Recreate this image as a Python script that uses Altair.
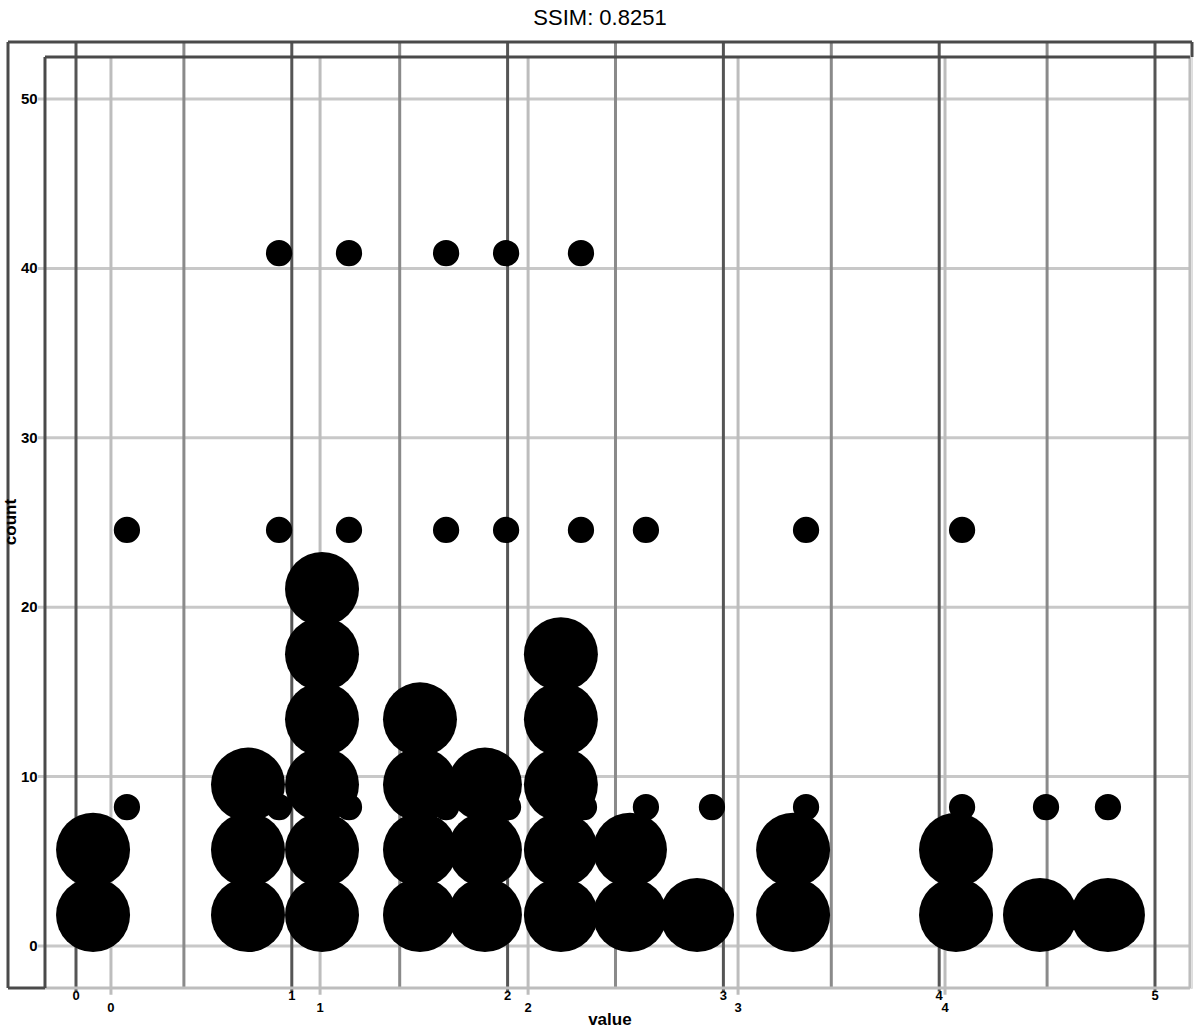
import altair as alt
import pandas as pd

# ---- data ----
# big stacked dots: column centre (x) and number of stacked dots
big_x = [0.079, 0.797, 1.140, 1.594, 1.895, 2.247, 2.567, 2.878, 3.323, 4.078, 4.467, 4.782]
big_n = [2, 3, 6, 4, 3, 5, 2, 1, 2, 2, 1, 1]
big_base = 0.183
big_step = 0.385

# small dots, three rows
small_row1_x = [0.236, 0.941, 1.265, 1.715, 2.002, 2.354, 2.641, 2.947, 3.383, 4.106, 4.495, 4.782]
small_row1_y = 0.82
small_row2_x = [0.236, 0.941, 1.265, 1.715, 1.993, 2.340, 2.641, 3.383, 4.106]
small_row2_y = 2.456
small_row3_x = [0.941, 1.265, 1.715, 1.993, 2.340]
small_row3_y = 4.09

# gridlines / ticks
grid_major = [0, 1, 2, 3, 4, 5]
grid_minor = [0.5, 1.5, 2.5, 3.5, 4.5]
grid_second = [0.162, 1.131, 2.095, 3.068, 4.027]
grid_y = [0, 1, 2, 3, 4, 5]
y_labels = ["0", "10", "20", "30", "40", "50"]
x_labels = ["0", "1", "2", "3", "4", "5"]
x2_labels = ["0", "1", "2", "3", "4"]
title_text = "SSIM: 0.8251"

# ---- scale extents ----
XMIN, XMAX = -0.3151, 5.1715
YMIN, YMAX = -0.2479, 5.3365
IX0, IX1 = -0.1437, 5.162
IY1 = 5.248

xs = alt.Scale(domain=[XMIN, XMAX], nice=False, zero=False)
ys = alt.Scale(domain=[YMIN, YMAX], nice=False, zero=False)


def X(f):
    return alt.X(f, type="quantitative", scale=xs, axis=None)


def Y(f):
    return alt.Y(f, type="quantitative", scale=ys, axis=None)


# stacked big dots
rows = []
for x, n in zip(big_x, big_n):
    for k in range(n):
        rows.append({"x": x, "y": big_base + big_step * k})
big_df = pd.DataFrame(rows)

small_df = pd.DataFrame(
    [{"x": x, "y": small_row1_y} for x in small_row1_x]
    + [{"x": x, "y": small_row2_y} for x in small_row2_x]
    + [{"x": x, "y": small_row3_y} for x in small_row3_x]
)

vmaj = pd.DataFrame({"x": grid_major, "y": YMIN - 0.02, "y2": YMAX})
vmin = pd.DataFrame({"x": grid_minor, "y": YMIN, "y2": YMAX})
vsec = pd.DataFrame({"x": grid_second, "y": YMIN - 0.04, "y2": IY1})
hgrid = pd.DataFrame({"y": grid_y, "x": -0.176, "x2": IX1})

frames_dark = pd.DataFrame([
    {"x": XMIN, "x2": XMAX, "y": YMAX, "y2": YMAX},
    {"x": XMIN, "x2": XMIN, "y": YMIN, "y2": YMAX},
    {"x": XMIN, "x2": IX0, "y": YMIN, "y2": YMIN},
    {"x": XMAX, "x2": XMAX, "y": IY1, "y2": YMAX},
    {"x": IX0, "x2": IX1, "y": IY1, "y2": IY1},
    {"x": IX0, "x2": IX0, "y": YMIN, "y2": IY1},
])
frames_light = pd.DataFrame([
    {"x": IX1, "x2": IX1, "y": YMIN, "y2": IY1},
    {"x": IX0, "x2": IX1, "y": YMIN, "y2": YMIN},
])

ylab_df = pd.DataFrame({"y": grid_y, "label": y_labels, "x": -0.178})
xlab_df = pd.DataFrame({"x": grid_major, "label": x_labels, "y": -0.294})
xlab2_df = pd.DataFrame({"x": grid_second, "label": x2_labels, "y": -0.365})
xtitle_df = pd.DataFrame({"x": [2.474], "y": [-0.437], "label": ["value"]})
ytitle_df = pd.DataFrame({"x": [-0.302], "y": [2.503], "label": ["count"]})

layers = [
    alt.Chart(hgrid).mark_rule(color="#c8c8c8", strokeWidth=3).encode(
        x=X("x"), x2="x2", y=Y("y")),
    alt.Chart(vsec).mark_rule(color="#bdbdbd", strokeWidth=3).encode(
        x=X("x"), y=Y("y"), y2="y2"),
    alt.Chart(vmin).mark_rule(color="#8a8a8a", strokeWidth=3).encode(
        x=X("x"), y=Y("y"), y2="y2"),
    alt.Chart(vmaj).mark_rule(color="#555555", strokeWidth=3).encode(
        x=X("x"), y=Y("y"), y2="y2"),
    alt.Chart(frames_light).mark_rule(color="#bdbdbd", strokeWidth=3).encode(
        x=X("x"), x2="x2", y=Y("y"), y2="y2"),
    alt.Chart(frames_dark).mark_rule(color="#4a4a4a", strokeWidth=3).encode(
        x=X("x"), x2="x2", y=Y("y"), y2="y2"),
    alt.Chart(big_df).mark_point(filled=True, shape="circle", color="black",
                                 opacity=1, size=5476).encode(x=X("x"), y=Y("y")),
    alt.Chart(small_df).mark_point(filled=True, shape="circle", color="black",
                                   opacity=1, size=690).encode(x=X("x"), y=Y("y")),
    alt.Chart(ylab_df).mark_text(align="right", baseline="middle", fontSize=15,
                                 fontWeight="bold", font="Liberation Sans",
                                 color="black").encode(x=X("x"), y=Y("y"), text="label:N"),
    alt.Chart(xlab_df).mark_text(align="center", baseline="middle", fontSize=13,
                                 fontWeight="bold", font="Liberation Sans",
                                 color="black").encode(x=X("x"), y=Y("y"), text="label:N"),
    alt.Chart(xlab2_df).mark_text(align="center", baseline="middle", fontSize=13,
                                  fontWeight="bold", font="Liberation Sans",
                                  color="black").encode(x=X("x"), y=Y("y"), text="label:N"),
    alt.Chart(xtitle_df).mark_text(align="center", baseline="middle", fontSize=17,
                                   fontWeight="bold", font="Liberation Sans",
                                   color="black").encode(x=X("x"), y=Y("y"), text="label:N"),
    alt.Chart(ytitle_df).mark_text(align="center", baseline="middle", fontSize=17,
                                   fontWeight="bold", font="Liberation Sans", angle=270,
                                   color="black").encode(x=X("x"), y=Y("y"), text="label:N"),
]

chart = alt.layer(*layers).properties(
    width=1184,
    height=946,
    padding={"left": 8, "top": 42, "right": 8, "bottom": 46},
    autosize=alt.AutoSizeParams(type="none"),
    title=alt.TitleParams(title_text, fontSize=22, font="Liberation Sans",
                          fontWeight="normal", color="black", anchor="middle",
                          offset=11),
).configure_view(stroke=None).configure(background="white")

chart.save("out.html", embed_options={"renderer": "svg", "actions": False})
